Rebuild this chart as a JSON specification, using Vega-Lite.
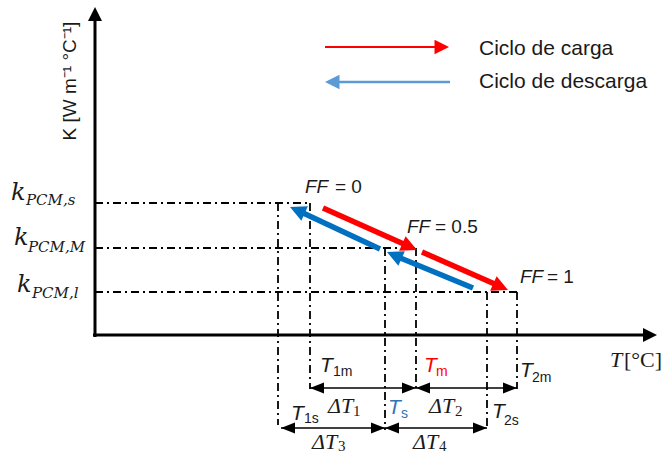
{
  "$schema": "https://vega.github.io/schema/vega-lite/v6.json",
  "width": 665,
  "height": 454,
  "padding": 0,
  "autosize": {"type": "none"},
  "background": "#ffffff",
  "config": {"view": {"stroke": null}},
  "datasets": {
    "grid": [
      {"x": 0, "y": 132, "x2": 215, "y2": 132},
      {"x": 0, "y": 87, "x2": 321, "y2": 87},
      {"x": 0, "y": 43, "x2": 422, "y2": 43},
      {"x": 183, "y": 132, "x2": 183, "y2": -90},
      {"x": 215, "y": 132, "x2": 215, "y2": -54},
      {"x": 290, "y": 87, "x2": 290, "y2": -95},
      {"x": 321, "y": 87, "x2": 321, "y2": -54},
      {"x": 392, "y": 43, "x2": 392, "y2": -95},
      {"x": 422, "y": 43, "x2": 422, "y2": -54}
    ],
    "axes": [
      {"x": 0, "y": -2, "x2": 0, "y2": 314},
      {"x": -2, "y": 0, "x2": 550, "y2": 0}
    ],
    "axisHeads": [
      {"x": 0, "y": 328, "dir": "up"},
      {"x": 562, "y": 0, "dir": "right"}
    ],
    "dims": [
      {"x": 215, "y": -53, "x2": 422, "y2": -53},
      {"x": 186, "y": -93, "x2": 392, "y2": -93}
    ],
    "dimHeads": [
      {"x": 321, "y": -53, "dir": "right"},
      {"x": 422, "y": -53, "dir": "right"},
      {"x": 290, "y": -93, "dir": "right"},
      {"x": 392, "y": -93, "dir": "right"},
      {"x": 215, "y": -53, "dir": "left"},
      {"x": 321, "y": -53, "dir": "left"},
      {"x": 186, "y": -93, "dir": "left"},
      {"x": 290, "y": -93, "dir": "left"}
    ],
    "cycles": [
      {"cycle": "carga", "x": 228, "y": 127, "x2": 311, "y2": 90},
      {"cycle": "carga", "x": 327, "y": 83, "x2": 402, "y2": 50},
      {"cycle": "descarga", "x": 285, "y": 86, "x2": 206, "y2": 123},
      {"cycle": "descarga", "x": 378, "y": 47, "x2": 303, "y2": 78}
    ],
    "cycleHeads": [
      {"cycle": "carga", "x": 322, "y": 85},
      {"cycle": "carga", "x": 413, "y": 45},
      {"cycle": "descarga", "x": 195, "y": 128},
      {"cycle": "descarga", "x": 292, "y": 83}
    ],
    "legend": [
      {"cycle": "carga", "x": 230, "y": 288, "x2": 343, "y2": 288},
      {"cycle": "descarga", "x": 355, "y": 253, "x2": 241, "y2": 253}
    ],
    "legendHeads": [
      {"cycle": "carga", "x": 354, "y": 288},
      {"cycle": "descarga", "x": 230, "y": 253}
    ],
    "labels": [
      {"text": "Ciclo de carga", "x": 384, "y": 280, "kind": "legend"},
      {"text": "Ciclo de descarga", "x": 384, "y": 247, "kind": "legend"},
      {"text": "FF", "x": 210, "y": 142, "kind": "ff"},
      {"text": "= 0", "x": 240, "y": 142, "kind": "ffv"},
      {"text": "FF", "x": 312, "y": 102, "kind": "ff"},
      {"text": "= 0.5", "x": 340, "y": 102, "kind": "ffv"},
      {"text": "FF", "x": 425, "y": 52, "kind": "ff"},
      {"text": "= 1", "x": 452, "y": 52, "kind": "ffv"},
      {"text": "k", "x": -84, "y": 135, "kind": "k"},
      {"text": "PCM,s", "x": -69, "y": 130, "kind": "ksub"},
      {"text": "k", "x": -81, "y": 90, "kind": "k"},
      {"text": "PCM,M", "x": -67, "y": 83, "kind": "ksub"},
      {"text": "k", "x": -78, "y": 43, "kind": "k"},
      {"text": "PCM,l", "x": -63, "y": 37, "kind": "ksub"},
      {"text": "T", "x": 225, "y": -37, "kind": "T", "tone": "none"},
      {"text": "1m", "x": 238, "y": -41, "kind": "Tsub", "tone": "none"},
      {"text": "T", "x": 329, "y": -37, "kind": "T", "tone": "carga"},
      {"text": "m", "x": 341, "y": -41, "kind": "Tsub", "tone": "carga"},
      {"text": "T", "x": 425, "y": -42, "kind": "T", "tone": "none"},
      {"text": "2m", "x": 437, "y": -47, "kind": "Tsub", "tone": "none"},
      {"text": "T", "x": 196, "y": -85, "kind": "T", "tone": "none"},
      {"text": "1s", "x": 209, "y": -88, "kind": "Tsub", "tone": "none"},
      {"text": "T", "x": 293, "y": -79, "kind": "T", "tone": "descarga"},
      {"text": "s", "x": 306, "y": -83, "kind": "Tsub", "tone": "descarga"},
      {"text": "T", "x": 397, "y": -83, "kind": "T", "tone": "none"},
      {"text": "2s", "x": 409, "y": -90, "kind": "Tsub", "tone": "none"},
      {"text": "ΔT", "x": 233, "y": -78, "kind": "dT"},
      {"text": "1", "x": 258, "y": -81, "kind": "dTsub"},
      {"text": "ΔT", "x": 334, "y": -78, "kind": "dT"},
      {"text": "2", "x": 360, "y": -81, "kind": "dTsub"},
      {"text": "ΔT", "x": 217, "y": -114, "kind": "dT"},
      {"text": "3", "x": 243, "y": -116, "kind": "dTsub"},
      {"text": "ΔT", "x": 318, "y": -114, "kind": "dT"},
      {"text": "4", "x": 344, "y": -116, "kind": "dTsub"},
      {"text": "T", "x": 515, "y": -32, "kind": "Tax"},
      {"text": "[°C]", "x": 529, "y": -32, "kind": "Taxu"},
      {"text": "K [W m⁻¹ °C⁻¹]", "x": -25, "y": 254, "kind": "ytitle"}
    ]
  },
  "encoding": {
    "x": {"field": "x", "type": "quantitative", "scale": {"domain": [-95, 570], "range": [0, 665], "nice": false, "zero": false}, "axis": null},
    "y": {"field": "y", "type": "quantitative", "scale": {"domain": [-119, 335], "range": [454, 0], "nice": false, "zero": false}, "axis": null}
  },
  "layer": [
    {
      "data": {"name": "grid"},
      "mark": {"type": "rule", "color": "#000000", "strokeWidth": 1.8, "strokeDash": [8, 4, 2, 4]},
      "encoding": {"x2": {"field": "x2"}, "y2": {"field": "y2"}}
    },
    {
      "data": {"name": "axes"},
      "mark": {"type": "rule", "color": "#000000", "strokeWidth": 3},
      "encoding": {"x2": {"field": "x2"}, "y2": {"field": "y2"}}
    },
    {
      "data": {"name": "axisHeads"},
      "transform": [{"filter": "datum.dir == 'up'"}],
      "mark": {"type": "point", "shape": "M0,0L-2,-1L-2,1Z", "filled": true, "opacity": 1, "size": 196, "angle": 270, "color": "#000000"}
    },
    {
      "data": {"name": "axisHeads"},
      "transform": [{"filter": "datum.dir == 'right'"}],
      "mark": {"type": "point", "shape": "M0,0L-2,-1L-2,1Z", "filled": true, "opacity": 1, "size": 196, "angle": 0, "color": "#000000"}
    },
    {
      "data": {"name": "dims"},
      "mark": {"type": "rule", "color": "#000000", "strokeWidth": 1.5},
      "encoding": {"x2": {"field": "x2"}, "y2": {"field": "y2"}}
    },
    {
      "data": {"name": "dimHeads"},
      "transform": [{"filter": "datum.dir == 'right'"}],
      "mark": {"type": "point", "shape": "M0,0L-2.5,-1L-2.5,1Z", "filled": true, "opacity": 1, "size": 125, "angle": 0, "color": "#000000"}
    },
    {
      "data": {"name": "dimHeads"},
      "transform": [{"filter": "datum.dir == 'left'"}],
      "mark": {"type": "point", "shape": "M0,0L-2.5,-1L-2.5,1Z", "filled": true, "opacity": 1, "size": 125, "angle": 180, "color": "#000000"}
    },
    {
      "data": {"name": "cycles"},
      "transform": [{"filter": "datum.cycle == 'carga'"}],
      "mark": {"type": "rule", "color": "#ff0000", "strokeWidth": 5.5},
      "encoding": {"x2": {"field": "x2"}, "y2": {"field": "y2"}}
    },
    {
      "data": {"name": "cycleHeads"},
      "transform": [{"filter": "datum.cycle == 'carga'"}],
      "mark": {"type": "point", "shape": "M0,0L-2,-1L-2,1Z", "filled": true, "opacity": 1, "size": 256, "angle": 24, "color": "#ff0000"}
    },
    {
      "data": {"name": "cycles"},
      "transform": [{"filter": "datum.cycle == 'descarga'"}],
      "mark": {"type": "rule", "color": "#0070c0", "strokeWidth": 5.5},
      "encoding": {"x2": {"field": "x2"}, "y2": {"field": "y2"}}
    },
    {
      "data": {"name": "cycleHeads"},
      "transform": [{"filter": "datum.cycle == 'descarga'"}],
      "mark": {"type": "point", "shape": "M0,0L-2,-1L-2,1Z", "filled": true, "opacity": 1, "size": 256, "angle": 204, "color": "#0070c0"}
    },
    {
      "data": {"name": "legend"},
      "transform": [{"filter": "datum.cycle == 'carga'"}],
      "mark": {"type": "rule", "color": "#ff0000", "strokeWidth": 2},
      "encoding": {"x2": {"field": "x2"}, "y2": {"field": "y2"}}
    },
    {
      "data": {"name": "legendHeads"},
      "transform": [{"filter": "datum.cycle == 'carga'"}],
      "mark": {"type": "point", "shape": "M0,0L-2,-1L-2,1Z", "filled": true, "opacity": 1, "size": 210, "angle": 0, "color": "#ff0000"}
    },
    {
      "data": {"name": "legend"},
      "transform": [{"filter": "datum.cycle == 'descarga'"}],
      "mark": {"type": "rule", "color": "#5b9bd5", "strokeWidth": 2.5},
      "encoding": {"x2": {"field": "x2"}, "y2": {"field": "y2"}}
    },
    {
      "data": {"name": "legendHeads"},
      "transform": [{"filter": "datum.cycle == 'descarga'"}],
      "mark": {"type": "point", "shape": "M0,0L-2,-1L-2,1Z", "filled": true, "opacity": 1, "size": 210, "angle": 180, "color": "#5b9bd5"}
    },
    {
      "data": {"name": "labels"},
      "transform": [{"filter": "datum.kind == 'legend'"}],
      "mark": {"type": "text", "align": "left", "baseline": "alphabetic", "font": "Liberation Sans", "fontSize": 21, "color": "#1a1a1a"},
      "encoding": {"text": {"field": "text"}}
    },
    {
      "data": {"name": "labels"},
      "transform": [{"filter": "datum.kind == 'ff'"}],
      "mark": {"type": "text", "align": "left", "baseline": "alphabetic", "font": "Liberation Sans", "fontStyle": "italic", "fontSize": 19, "color": "#1a1a1a"},
      "encoding": {"text": {"field": "text"}}
    },
    {
      "data": {"name": "labels"},
      "transform": [{"filter": "datum.kind == 'ffv'"}],
      "mark": {"type": "text", "align": "left", "baseline": "alphabetic", "font": "Liberation Sans", "fontSize": 19, "color": "#1a1a1a"},
      "encoding": {"text": {"field": "text"}}
    },
    {
      "data": {"name": "labels"},
      "transform": [{"filter": "datum.kind == 'k'"}],
      "mark": {"type": "text", "align": "left", "baseline": "alphabetic", "font": "DejaVu Serif", "fontStyle": "italic", "fontSize": 24, "color": "#1a1a1a"},
      "encoding": {"text": {"field": "text"}}
    },
    {
      "data": {"name": "labels"},
      "transform": [{"filter": "datum.kind == 'ksub'"}],
      "mark": {"type": "text", "align": "left", "baseline": "alphabetic", "font": "DejaVu Serif", "fontStyle": "italic", "fontSize": 15, "color": "#1a1a1a"},
      "encoding": {"text": {"field": "text"}}
    },
    {
      "data": {"name": "labels"},
      "transform": [{"filter": "datum.kind == 'T'"}],
      "mark": {"type": "text", "align": "left", "baseline": "alphabetic", "font": "Liberation Sans", "fontStyle": "italic", "fontSize": 21},
      "encoding": {
        "text": {"field": "text"},
        "color": {"field": "tone", "type": "nominal", "scale": {"domain": ["none", "carga", "descarga"], "range": ["#1a1a1a", "#ff0000", "#2e75b6"]}, "legend": null}
      }
    },
    {
      "data": {"name": "labels"},
      "transform": [{"filter": "datum.kind == 'Tsub'"}],
      "mark": {"type": "text", "align": "left", "baseline": "alphabetic", "font": "Liberation Sans", "fontSize": 14},
      "encoding": {
        "text": {"field": "text"},
        "color": {"field": "tone", "type": "nominal", "scale": {"domain": ["none", "carga", "descarga"], "range": ["#1a1a1a", "#ff0000", "#2e75b6"]}, "legend": null}
      }
    },
    {
      "data": {"name": "labels"},
      "transform": [{"filter": "datum.kind == 'dT'"}],
      "mark": {"type": "text", "align": "left", "baseline": "alphabetic", "font": "Liberation Serif", "fontStyle": "italic", "fontSize": 22, "color": "#1a1a1a"},
      "encoding": {"text": {"field": "text"}}
    },
    {
      "data": {"name": "labels"},
      "transform": [{"filter": "datum.kind == 'dTsub'"}],
      "mark": {"type": "text", "align": "left", "baseline": "alphabetic", "font": "Liberation Serif", "fontSize": 15, "color": "#1a1a1a"},
      "encoding": {"text": {"field": "text"}}
    },
    {
      "data": {"name": "labels"},
      "transform": [{"filter": "datum.kind == 'Tax'"}],
      "mark": {"type": "text", "align": "left", "baseline": "alphabetic", "font": "Liberation Serif", "fontStyle": "italic", "fontSize": 22, "color": "#1a1a1a"},
      "encoding": {"text": {"field": "text"}}
    },
    {
      "data": {"name": "labels"},
      "transform": [{"filter": "datum.kind == 'Taxu'"}],
      "mark": {"type": "text", "align": "left", "baseline": "alphabetic", "font": "Liberation Serif", "fontSize": 22, "color": "#1a1a1a"},
      "encoding": {"text": {"field": "text"}}
    },
    {
      "data": {"name": "labels"},
      "transform": [{"filter": "datum.kind == 'ytitle'"}],
      "mark": {"type": "text", "align": "center", "baseline": "middle", "angle": 270, "font": "Liberation Sans", "fontSize": 19, "color": "#1a1a1a"},
      "encoding": {"text": {"field": "text"}}
    }
  ]
}
